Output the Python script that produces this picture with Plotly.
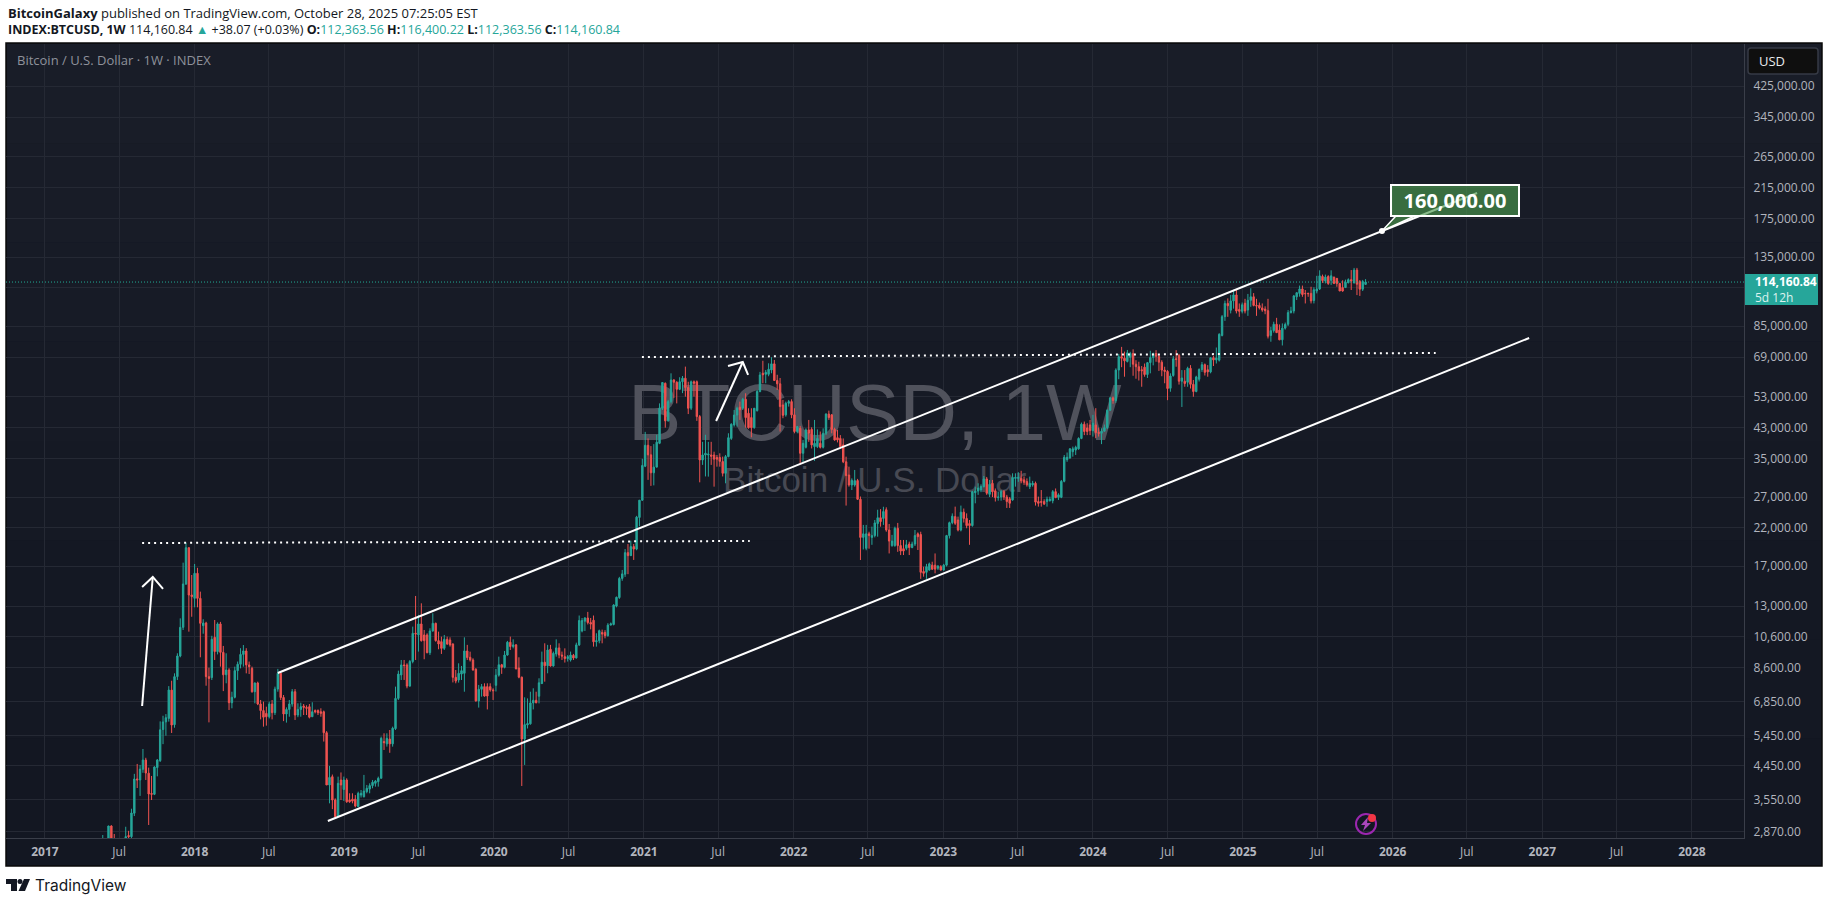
import math
import pandas as pd
import plotly.graph_objects as go

# weekly OHLC, one block per calendar year (weeks start on Monday)
week_open = [
    # 2017
    1350, 1760, 1800, 2040, 2200, 2540, 2975, 2660, 2600, 2500, 2520, 1930, 2790, 2770, 3240, 4080, 4050, 4350,
    4630, 4240, 3700, 3680, 4400, 4610, 5680, 5980, 6120, 7400, 5870, 8100, 9300, 11270, 15075, 19230, 14000,
    # 2018
    13690, 16192, 13690, 11400, 11600, 8098, 8050, 10540, 9580, 11530, 9530, 8200, 8468, 6800, 7050, 8430, 8800,
    9400, 9620, 8760, 8560, 7320, 7760, 6740, 6450, 6330, 6190, 6740, 6360, 7450, 8281, 7040, 6305, 6500, 6740,
    7320, 6260, 6500, 6650, 6590, 6620, 6190, 6450, 6450, 6400, 6400, 5560, 3917, 4140, 3542, 3180, 4050, 3800,
    # 2019
    4050, 3542, 3560, 3560, 3387, 3660, 3622, 3745, 3810, 3900, 3961, 4005, 4096, 5240, 5160, 5330, 5160, 5715,
    7000, 8190, 8760, 8760, 7600, 8960, 10829, 10710, 11530, 10710, 10710, 9510, 11000, 11580, 10310, 10240, 9790,
    10400, 10355, 10080, 8060, 7919, 8240, 8281, 9620, 9220, 9056, 8510, 6880, 7440, 7573, 7573, 7573, 7406,
    # 2020
    7640, 8180, 8770, 8620, 9360, 10200, 9910, 10020, 8580, 8070, 5330, 5860, 5900, 6790, 6910, 7100, 7730, 8920,
    8710, 9730, 8700, 9430, 9820, 9360, 9260, 9140, 9060, 9340, 9180, 10020, 11000, 11750, 12000, 11640, 11820,
    10230, 10300, 10890, 10890, 10660, 11440, 11490, 13000, 13760, 15650, 16100, 18600, 18230, 19370, 19050, 23550, 26440,
    # 2021
    33200, 38210, 35830, 31770, 33000, 38720, 48970, 57900, 45000, 51200, 59210, 58300, 55600, 58500, 59900, 56300,
    48970, 58500, 58500, 46310, 34630, 35800, 35800, 35800, 35800, 35200, 35200, 34260, 31660, 35410, 40000, 43800,
    46800, 49300, 48970, 52000, 47350, 46000, 43000, 48200, 54800, 61920, 61500, 61500, 63320, 65960, 59000, 57700,
    50070, 46850, 50640, 51200,
    # 2022
    46850, 41900, 42800, 36210, 37700, 42350, 42500, 37870, 37870, 38720, 37700, 41410, 47100, 46850, 42500, 40200,
    40000, 38300, 34200, 31300, 29280, 29280, 30150, 26600, 20600, 19150, 21100, 20600, 20850, 22600, 23500, 23400,
    24800, 21650, 19500, 19500, 21900, 19500, 19100, 19150, 19700, 19250, 19700, 21100, 21000, 16400, 16300, 16550,
    17100, 17100, 16750, 16930,
    # 2023
    16550, 17100, 20850, 22740, 23680, 23150, 21650, 24400, 23400, 22600, 22300, 27800, 28100, 28300, 28950, 30500,
    27500, 29600, 28150, 26900, 27000, 28000, 27000, 26700, 26480, 30600, 30600, 30600, 30300, 29950, 28950, 29300,
    29600, 26200, 26200, 26200, 26200, 26350, 26350, 28000, 26950, 26950, 30000, 34700, 35100, 36600, 37000, 37300,
    40000, 44000, 42900, 43800,
    # 2024
    42150, 43800, 41600, 41400, 42000, 43000, 48300, 52500, 51600, 63260, 69200, 68500, 67000, 68900, 70700, 65800,
    64700, 63400, 64500, 61400, 66500, 68800, 70700, 69300, 66700, 63260, 62700, 56000, 61000, 68200, 69800, 58700,
    58700, 58300, 64000, 57500, 54800, 59500, 63500, 65600, 63400, 62500, 68700, 67700, 67600, 79800, 90500, 98900,
    94500, 100600, 104700, 95000, 93800,
    # 2025
    99000, 94600, 101000, 103400, 97600, 97600, 96000, 95200, 94200, 79800, 82400, 86000, 82700, 77500, 83800, 86000,
    93000, 94000, 103400, 105800, 109000, 105800, 105800, 105800, 100900, 107500, 109000, 118500, 115000, 118500,
    115500, 118000, 117000, 113100, 110000, 110000, 113700, 116000, 113500, 123700, 114600, 108800, 112363.56,
]
week_high = [
    # 2017
    1830, 1900, 2100, 2800, 2600, 2980, 2990, 2820, 2600, 2660, 2600, 2960, 2880, 3340, 4220, 4510, 4480, 4986,
    4700, 4400, 4160, 4440, 4660, 6000, 6230, 6300, 7600, 7880, 8280, 9470, 11970, 17390, 19860, 19100, 16010,
    # 2018
    17240, 16800, 14320, 11900, 11700, 8600, 10650, 11840, 11650, 11690, 9950, 9470, 8570, 7320, 8660, 8960, 9800,
    10010, 9800, 8960, 8660, 7790, 7830, 6925, 6850, 6620, 6850, 6925, 7573, 8530, 8370, 7160, 6590, 6925, 7450,
    7450, 6772, 6800, 6740, 6680, 6740, 6820, 6500, 6500, 6550, 6450, 5620, 4450, 4200, 3580, 4142, 4260, 4142,
    # 2019
    4096, 3704, 3704, 3660, 3745, 3787, 4190, 3917, 3961, 4050, 4050, 4142, 5416, 5538, 5538, 5663, 5791, 7573,
    8430, 9056, 9056, 8856, 9056, 11324, 13910, 12250, 13241, 11074, 10829, 11200, 12383, 11630, 10950, 10589, 10710,
    10589, 10540, 10127, 8468, 8856, 8700, 10540, 10020, 9575, 9160, 8570, 7660, 7710, 7744, 7744, 7744, 7490,
    # 2020
    8530, 9261, 8820, 9620, 10290, 10590, 10400, 10080, 9220, 8100, 7050, 7000, 7320, 7490, 7320, 8010, 9580, 10127,
    10020, 10020, 9580, 10400, 10127, 9580, 9790, 9360, 9580, 9430, 10170, 12200, 12000, 12070, 12500, 12000, 12200,
    10830, 11100, 11100, 11060, 11590, 11640, 13160, 13850, 15810, 16560, 19050, 19700, 20150, 19700, 23800, 26440, 34900,
    # 2021
    41800, 40000, 38000, 38500, 41000, 50600, 58300, 58200, 51800, 61900, 59500, 58700, 60300, 60800, 64750, 58500,
    59000, 59000, 59000, 46800, 39100, 41000, 39100, 39100, 36600, 35800, 36200, 35410, 35800, 41410, 44280, 48400,
    49500, 51200, 52500, 54150, 48970, 48970, 48970, 55370, 62500, 67350, 63300, 66200, 68960, 67700, 61300, 60000,
    51780, 51200, 51780, 52000,
    # 2022
    48970, 43500, 43500, 39600, 42800, 45280, 43100, 45280, 42500, 41900, 42800, 47350, 48200, 47100, 43000, 42350,
    40900, 40000, 35400, 33100, 30600, 32380, 30500, 27100, 22400, 22400, 21400, 22140, 23150, 24800, 24900, 25300,
    25200, 22540, 20950, 22140, 22700, 20250, 20250, 20250, 20020, 20020, 21650, 21300, 21400, 16930, 17250, 17400,
    17500, 18500, 17100, 17100,
    # 2023
    17250, 20950, 22900, 24200, 25320, 23680, 25500, 25000, 24200, 23150, 28150, 28950, 29610, 29400, 31100, 30900,
    30280, 30280, 28600, 28000, 28300, 28300, 27400, 27000, 31660, 31660, 31900, 32200, 31000, 30600, 30960, 30100,
    29950, 27080, 28300, 26600, 27080, 27080, 28300, 28600, 27690, 30280, 35800, 36400, 37500, 37870, 38100, 40300,
    44500, 44800, 44280, 45280,
    # 2024
    46850, 49000, 43000, 42800, 43900, 48600, 52800, 53000, 64000, 70500, 73900, 71600, 72400, 71500, 72700, 67600,
    66900, 65000, 66100, 66800, 72000, 71100, 72300, 70000, 67600, 64700, 63260, 61900, 69500, 72300, 70500, 63260,
    63260, 64700, 65400, 59200, 60900, 64000, 66800, 66100, 65400, 69000, 69700, 73600, 81000, 91500, 100800, 102300,
    104700, 108400, 108400, 98900, 99500,
    # 2025
    102000, 105400, 109500, 106000, 102000, 99500, 98900, 97000, 102000, 84500, 87500, 89800, 85900, 86500, 87000, 94600,
    96700, 104700, 106300, 111500, 111500, 108200, 106300, 110600, 110200, 119000, 123500, 120000, 120000, 119500,
    123500, 118300, 114000, 113500, 115500, 116000, 117000, 123700, 125500, 125500, 115700, 115800, 116400.22,
]
week_low = [
    # 2017
    1350, 1660, 1710, 2040, 2130, 2500, 2100, 2440, 2270, 2480, 1830, 1850, 2400, 2650, 3180, 3838, 3640, 4250,
    4050, 2995, 3541, 3660, 4150, 4570, 5150, 5450, 5990, 5550, 5750, 7919, 9220, 11070, 14970, 10950, 12100,
    # 2018
    12890, 12890, 9220, 10800, 7620, 5960, 7920, 9056, 9400, 8660, 7350, 7744, 6476, 6550, 7000, 7919, 8560,
    8660, 8280, 8240, 7270, 6772, 6690, 6080, 5791, 5830, 6120, 6080, 6260, 7320, 6925, 6010, 5950, 6190, 6620,
    6056, 6170, 6190, 6260, 6260, 6120, 6190, 6330, 6260, 6190, 5240, 3917, 3463, 3330, 3130, 3180, 3542, 3520,
    # 2019
    3475, 3475, 3463, 3370, 3387, 3600, 3600, 3704, 3704, 3830, 3873, 3873, 4096, 4953, 5065, 4860, 5065, 5663,
    6925, 7919, 7919, 7490, 7573, 8856, 9056, 9580, 10240, 9100, 9470, 9365, 10950, 10240, 9730, 9430, 9684,
    10020, 9903, 7790, 7744, 7780, 7919, 7320, 9056, 8960, 8430, 6850, 6580, 7082, 7082, 6500, 7320, 6925,
    # 2020
    7330, 8098, 8250, 8560, 9320, 9684, 9790, 8510, 8010, 3890, 4480, 5720, 5870, 6500, 6770, 6770, 7710, 7830,
    8281, 8660, 8660, 9261, 9160, 9056, 8900, 8960, 8960, 9056, 9140, 9950, 10900, 11000, 11490, 11120, 9903,
    9903, 10127, 10127, 10470, 10590, 11420, 11420, 12890, 13640, 15400, 15810, 16100, 18200, 17710, 18900, 22200, 26300,
    # 2021
    33000, 30300, 29100, 29200, 33000, 38500, 48400, 43000, 44800, 50600, 52500, 50600, 55300, 54200, 52950, 47100,
    48400, 52950, 45000, 29800, 33500, 31000, 30960, 33500, 28950, 33100, 33100, 31000, 29610, 35250, 39600, 43300,
    43300, 45300, 48400, 43000, 42700, 40300, 42700, 47900, 54500, 57900, 57900, 60700, 61920, 58800, 55370, 41900,
    45800, 46300, 49520, 45800,
    # 2022
    41400, 41400, 33700, 33860, 37400, 39100, 37400, 34400, 37500, 37400, 37400, 40900, 45280, 41400, 39400, 38950,
    37400, 33900, 25500, 28950, 28300, 28950, 26480, 17700, 19000, 18900, 19100, 19600, 20600, 20700, 22140, 22400,
    21400, 18500, 19350, 19350, 18700, 18300, 18300, 18900, 18300, 19150, 19450, 18930, 15600, 15830, 15600, 16480,
    16550, 16190, 16550, 16480,
    # 2023
    16480, 16950, 20450, 22500, 22400, 21450, 21450, 22760, 21900, 19600, 22140, 25890, 27400, 27900, 28800, 27400,
    27000, 27000, 26200, 26350, 26350, 26480, 25100, 25100, 26350, 28950, 29900, 29610, 29300, 28950, 28500, 28950,
    25500, 25320, 25320, 25600, 25320, 26200, 25890, 26800, 26480, 26800, 29800, 34200, 34900, 35400, 35800, 37100,
    39800, 40900, 40900, 40900,
    # 2024
    40500, 40100, 40500, 38500, 41900, 42600, 48200, 50500, 50800, 59500, 64500, 60500, 66600, 64500, 60900, 59700,
    59000, 56570, 60500, 60000, 61900, 65300, 66900, 62900, 60700, 57900, 51700, 54700, 60500, 64700, 57400, 49400,
    56570, 56570, 55900, 52900, 54500, 58600, 62500, 61000, 60500, 61900, 65000, 66100, 67000, 79300, 88000, 90400,
    92500, 95500, 92500, 90400, 92500,
    # 2025
    92500, 91000, 96700, 97000, 91000, 95000, 93500, 92000, 78200, 76500, 81300, 81300, 77300, 74600, 83000, 85000,
    92500, 92500, 101200, 103500, 103400, 98900, 103400, 98900, 98900, 105800, 108200, 113500, 113100, 112000,
    112000, 113000, 110600, 107500, 107000, 110000, 113100, 108200, 113100, 104600, 104000, 107500, 112363.56,
]
week_close = [
    # 2017
    1760, 1800, 2040, 2200, 2540, 2975, 2660, 2600, 2500, 2520, 1930, 2770, 2770, 3246, 4077, 4050, 4356, 4630,
    4244, 3687, 3680, 4417, 4630, 5670, 5977, 6150, 7403, 5853, 8098, 9300, 11270, 15075, 19230, 14000, 13850,
    # 2018
    16192, 13690, 11580, 11600, 8098, 8000, 10400, 9580, 11530, 9530, 8200, 8468, 6800, 7050, 8430, 8800, 9400,
    9620, 8760, 8660, 7320, 7760, 6740, 6450, 6170, 6190, 6740, 6360, 7450, 8281, 7040, 6305, 6500, 6740, 7320,
    6260, 6500, 6620, 6590, 6550, 6170, 6400, 6400, 6360, 6333, 5560, 3917, 4120, 3542, 3167, 3961, 3917, 4050,
    # 2019
    3500, 3500, 3515, 3400, 3704, 3704, 3760, 3830, 3900, 3990, 4020, 4096, 5355, 5200, 5355, 5160, 5730, 7000,
    8240, 8760, 8720, 7600, 8960, 10829, 10780, 11530, 10310, 10310, 9510, 11000, 11580, 10310, 10080, 9790, 10400,
    10080, 10020, 8060, 7860, 8281, 8430, 9620, 9200, 9056, 8468, 6880, 7440, 7573, 7110, 7110, 7406, 7370,
    # 2020
    8180, 8770, 8620, 9360, 10200, 9910, 10020, 8530, 8070, 5330, 5870, 5910, 6790, 6910, 6800, 7770, 8920, 8710,
    9680, 8700, 9470, 9820, 9360, 9300, 9140, 9260, 9360, 9180, 10020, 11800, 11800, 12000, 11640, 11520, 10230,
    10300, 11020, 10770, 10660, 11440, 11540, 13090, 13790, 15650, 16130, 18600, 18230, 19370, 19050, 23600, 26440, 33370,
    # 2021
    38210, 35830, 31770, 33000, 39000, 48970, 58200, 45000, 51200, 59210, 58300, 55600, 58500, 59900, 56300, 48970,
    58500, 57900, 46310, 34630, 35800, 36200, 36000, 35500, 34800, 34800, 34300, 31660, 35410, 40200, 44000, 46800,
    48970, 48500, 52000, 46000, 43000, 43000, 48970, 54800, 61230, 61300, 62300, 63600, 65960, 59000, 57700, 49520,
    46700, 50640, 51200, 46850,
    # 2022
    41900, 43300, 36210, 38720, 42350, 41410, 38300, 38720, 40000, 37700, 41410, 47100, 46000, 42500, 39600, 39600,
    37870, 34200, 31170, 29280, 30200, 30150, 26600, 20600, 21100, 21100, 20850, 20850, 22700, 23500, 22900, 24500,
    21650, 20100, 20100, 21900, 19500, 18800, 18800, 19600, 19250, 19700, 20850, 20700, 16300, 16190, 16930, 17250,
    16650, 16650, 17000, 16550,
    # 2023
    17100, 20850, 22740, 23750, 22640, 21650, 24400, 23400, 22300, 22300, 28000, 28100, 28700, 29000, 30500, 27700,
    29400, 28000, 26900, 27000, 28000, 27000, 26200, 25900, 30800, 30800, 30800, 30100, 29800, 29300, 29600, 29600,
    26100, 25890, 26070, 25780, 26600, 26600, 28000, 26900, 27400, 30000, 35250, 35250, 37300, 37300, 37700, 40000,
    44000, 41900, 41900, 42150,
    # 2024
    44280, 41600, 41400, 42000, 43000, 48300, 52500, 51600, 63260, 69200, 68500, 67300, 71000, 70700, 65800, 64700,
    62900, 63000, 61400, 66500, 68800, 70700, 69400, 66700, 63260, 62700, 55900, 60800, 68200, 68000, 58700, 60000,
    57800, 64000, 57500, 54800, 60400, 63500, 65600, 62300, 62500, 68700, 67700, 68600, 80400, 90500, 98900, 97400,
    100600, 104700, 94000, 93800, 98000,
    # 2025
    94000, 101000, 103400, 97600, 97200, 96000, 94600, 94200, 79400, 82400, 86000, 81300, 77500, 83800, 85900, 93000,
    94000, 104000, 106300, 109000, 105000, 105600, 105600, 100600, 108400, 109000, 119000, 115300, 118000, 113000,
    119000, 113000, 113100, 107500, 107500, 114000, 116000, 115000, 123700, 112500, 108800, 114600, 114160.84,
]
first_week = "2017-05-01"

price_ticks = [425000, 345000, 265000, 215000, 175000, 135000, 110000, 85000, 69000, 53000, 43000, 35000, 27000,
               22000, 17000, 13000, 10600, 8600, 6850, 5450, 4450, 3550, 2870]
time_ticks = ["2017-01-01", "2017-07-01", "2018-01-01", "2018-07-01", "2019-01-01", "2019-07-01", "2020-01-01",
              "2020-07-01", "2021-01-01", "2021-07-01", "2022-01-01", "2022-07-01", "2023-01-01", "2023-07-01",
              "2024-01-01", "2024-07-01", "2025-01-01", "2025-07-01", "2026-01-01", "2026-07-01", "2027-01-01",
              "2027-07-01", "2028-01-01"]
time_labels = ["<b>2017</b>", "Jul", "<b>2018</b>", "Jul", "<b>2019</b>", "Jul", "<b>2020</b>", "Jul", "<b>2021</b>",
               "Jul", "<b>2022</b>", "Jul", "<b>2023</b>", "Jul", "<b>2024</b>", "Jul", "<b>2025</b>", "Jul",
               "<b>2026</b>", "Jul", "<b>2027</b>", "Jul", "<b>2028</b>"]

last_price = 114160.84
target_price = 160000.00

# drawings on the chart: dates and prices
upper_x = ["2018-07-23", "2026-07-26"]
upper_y = [8299, 207400]
lower_x = ["2018-11-22", "2026-11-30"]
lower_y = [3076, 78440]
top2017_x = ["2017-08-26", "2021-09-16"]
top2017_y = [19840, 20110]
top2021_x = ["2020-12-27", "2026-04-16"]
top2021_y = [69050, 70940]
arrow1_x = ["2017-08-26", "2017-09-21", None, "2017-08-26", "2017-09-21", "2017-10-16"]
arrow1_y = [6650, 15800, None, 14780, 15800, 14580]
arrow2_x = ["2021-06-26", "2021-08-30", None, "2021-07-25", "2021-08-30", "2021-09-12"]
arrow2_y = [44970, 66780, None, 65010, 66780, 61210]
tail_x = ["2026-01-09", "2025-12-06", "2026-02-24", "2026-01-09"]
tail_y = [177700, 160800, 177700, 177700]

UP = "#26A69A"
DOWN = "#EF5350"
GRID = "#252934"
AXIS = "#3A3E49"
TICK = "#B2B5BE"
FONT = "Open Sans"

# chart frame in page pixels
LEFT, RIGHT, TOP, BOTTOM = 6, 1744, 44, 838


def px(x):
    return (x - LEFT) / (RIGHT - LEFT)


def py(y):
    return (BOTTOM - y) / (BOTTOM - TOP)


weeks = pd.date_range(first_week, periods=len(week_close), freq="7D")
y_range = [3.4385, 5.7507]
x_range = ["2016-09-28", "2028-05-07"]

fig = go.Figure()

# watermark sits on the base axes so the candles (overlay axes) draw over it
fig.add_trace(go.Scatter(x=["2022-07-18"], y=[45200], mode="text", text=["BTCUSD, 1W"],
                         textfont=dict(family="Liberation Sans", size=80, color="#50525C"),
                         textposition="middle center", hoverinfo="skip", showlegend=False))
fig.add_trace(go.Scatter(x=["2022-07-18"], y=[29670], mode="text", text=["Bitcoin / U.S. Dollar"],
                         textfont=dict(family="Liberation Sans", size=35, color="#474953"),
                         textposition="middle center", hoverinfo="skip", showlegend=False))

fig.add_trace(go.Candlestick(x=weeks, open=week_open, high=week_high, low=week_low, close=week_close, yaxis="y2",
                             increasing=dict(line=dict(color=UP, width=1), fillcolor=UP),
                             decreasing=dict(line=dict(color=DOWN, width=1), fillcolor=DOWN),
                             whiskerwidth=0, hoverinfo="skip", showlegend=False))


def add_line(xs, ys, width=2, dash="solid", color="#FFFFFF"):
    fig.add_trace(go.Scatter(x=xs, y=ys, mode="lines", yaxis="y2", line=dict(color=color, width=width, dash=dash),
                             hoverinfo="skip", showlegend=False, connectgaps=False))


add_line(x_range, [last_price, last_price], width=1, dash="1px,2px", color="#22AB94")
add_line(upper_x, upper_y)
add_line(lower_x, lower_y)
add_line(top2017_x, top2017_y, dash="2px,4px")
add_line(top2021_x, top2021_y, dash="2px,4px")
add_line(arrow1_x, arrow1_y)
add_line(arrow2_x, arrow2_y)

fig.add_trace(go.Scatter(x=tail_x, y=tail_y, mode="lines", yaxis="y2", fill="toself", fillcolor="#3A6E40",
                         line=dict(color="#FFFFFF", width=1.5), hoverinfo="skip", showlegend=False))
fig.add_trace(go.Scatter(x=[tail_x[1]], y=[tail_y[1]], mode="markers", yaxis="y2",
                         marker=dict(color="#FFFFFF", size=6), hoverinfo="skip", showlegend=False))

shapes = [
    dict(type="rect", xref="paper", yref="paper", x0=px(6), x1=px(1822), y0=py(866), y1=py(43), layer="below",
         fillcolor="#131722", line=dict(color="#0A0A0A", width=1.5)),
]
# background fades a little from the top of the chart to the bottom
bands = ["#191D28", "#181C27", "#171B26", "#161A25", "#151924", "#141823", "#141823", "#131722"]
for i, c in enumerate(bands):
    y0 = 44 + i * (BOTTOM - 44) / len(bands)
    shapes.append(dict(type="rect", xref="paper", yref="paper", x0=px(7), x1=px(1821), y0=py(y0),
                       y1=py(y0 + (BOTTOM - 44) / len(bands)), layer="below", fillcolor=c, line=dict(width=0)))
shapes += [
    # USD button
    dict(type="path", xref="paper", yref="paper", layer="above", fillcolor="#0F0F0F", line=dict(color="#363A45", width=1.5),
         path=f"M {px(1751)} {py(48)} L {px(1815)} {py(48)} Q {px(1818)} {py(48)} {px(1818)} {py(51)} "
              f"L {px(1818)} {py(71)} Q {px(1818)} {py(74)} {px(1815)} {py(74)} L {px(1751)} {py(74)} "
              f"Q {px(1748)} {py(74)} {px(1748)} {py(71)} L {px(1748)} {py(51)} Q {px(1748)} {py(48)} {px(1751)} {py(48)} Z"),
    # last price tag
    dict(type="rect", xref="paper", yref="paper", x0=px(1745), x1=px(1818), y0=py(305), y1=py(274), layer="above",
         fillcolor=UP, line=dict(width=0)),
    # pine editor badge
    dict(type="circle", xref="paper", yref="paper", x0=px(1356), x1=px(1376), y0=py(834), y1=py(814), layer="above",
         line=dict(color="#9C27B0", width=2), fillcolor="rgba(0,0,0,0)"),
    dict(type="path", xref="paper", yref="paper", layer="above", fillcolor="#AB47BC", line=dict(width=0),
         path=f"M {px(1368)} {py(817)} L {px(1361)} {py(825)} L {px(1365)} {py(825)} L {px(1363)} {py(831)} "
              f"L {px(1371)} {py(823)} L {px(1367)} {py(823)} Z"),
    dict(type="circle", xref="paper", yref="paper", x0=px(1368), x1=px(1376), y0=py(822), y1=py(814), layer="above",
         fillcolor="#F23645", line=dict(width=0)),
    # logo
    dict(type="path", xref="paper", yref="paper", layer="above", fillcolor="#131722", line=dict(width=0),
         path=f"M {px(6)} {py(879)} L {px(17)} {py(879)} L {px(17)} {py(891)} L {px(11)} {py(891)} L {px(11)} {py(884)} L {px(6)} {py(884)} Z"),
    dict(type="circle", xref="paper", yref="paper", x0=px(17.5), x1=px(22.5), y0=py(884), y1=py(879), layer="above",
         fillcolor="#131722", line=dict(width=0)),
    dict(type="path", xref="paper", yref="paper", layer="above", fillcolor="#131722", line=dict(width=0),
         path=f"M {px(24)} {py(879)} L {px(30)} {py(879)} L {px(25)} {py(891)} L {px(18.5)} {py(891)} Z"),
]


def note(x, y, text, size=13, color="#131722", anchor="left", family=FONT):
    return dict(xref="paper", yref="paper", x=px(x), y=py(y), text=text, showarrow=False, xanchor=anchor,
                yanchor="middle", align="left", font=dict(family=family, size=size, color=color))


def teal(s):
    return f'<span style="color:#26A69A">{s}</span>'


annotations = [
    note(6, 13, "<b>BitcoinGalaxy</b> published on TradingView.com, October 28, 2025 07:25:05 EST"),
    note(6, 30, "<b>INDEX:BTCUSD, 1W</b> 114,160.84 " + teal("▲") + " +38.07 (+0.03%) <b>O:</b>" + teal("112,363.56")
         + " <b>H:</b>" + teal("116,400.22") + " <b>L:</b>" + teal("112,363.56") + " <b>C:</b>" + teal("114,160.84"),
         size=12.5),
    note(15, 60, "Bitcoin / U.S. Dollar · 1W · INDEX", size=13, color="#8F929B"),
    note(1757, 61, "USD", size=13, color="#E8E9EC"),
    note(1753, 289, '<b>114,160.84</b><br><span style="color:#DDF2EF">5d 12h</span>', size=12, color="#FFFFFF"),
    note(33, 885, "TradingView", size=15.5, color="#131722", family="Inter"),
    # target label sits on the price axes so the channel line runs under it
    dict(xref="x", yref="y2", x="2026-06-02", y=math.log10(196600), text=f"<b>{target_price:,.2f}</b>", showarrow=False,
         font=dict(family=FONT, size=20, color="#FFFFFF"), bgcolor="rgba(76,154,78,0.65)", bordercolor="#FFFFFF",
         borderwidth=2, borderpad=2, width=122, height=25),
]

fig.update_layout(
    width=1829,
    height=903,
    autosize=False,
    margin=dict(l=LEFT, r=1829 - RIGHT, t=TOP, b=903 - BOTTOM, pad=0),
    paper_bgcolor="#FFFFFF",
    plot_bgcolor="rgba(0,0,0,0)",
    showlegend=False,
    font=dict(family=FONT, size=12, color=TICK),
    shapes=shapes,
    annotations=annotations,
    xaxis=dict(type="date", range=x_range, rangeslider=dict(visible=False), tickmode="array", tickvals=time_ticks,
               ticktext=time_labels, showgrid=True, gridcolor=GRID, gridwidth=1, zeroline=False, showline=True,
               linecolor=AXIS, linewidth=1, ticks="", ticklabelstandoff=3, tickfont=dict(size=12, color=TICK, family=FONT)),
    yaxis=dict(type="log", range=y_range, side="right", tickmode="array", tickvals=price_ticks,
               ticktext=["" if p == 110000 else f"{p:,.2f}" for p in price_ticks], showgrid=True, gridcolor=GRID,
               gridwidth=1, zeroline=False, showline=True, linecolor=AXIS, linewidth=1, ticks="", ticklabelstandoff=6,
               tickfont=dict(size=12, color=TICK, family=FONT)),
    yaxis2=dict(type="log", range=y_range, overlaying="y", side="right", showgrid=False, zeroline=False,
                showticklabels=False, ticks="", showline=False),
)

assert len(week_open) == len(week_high) == len(week_low) == len(week_close) == 444, (
    len(week_open), len(week_high), len(week_low), len(week_close))

# the page has a default body margin that would push the picture off the frame
fig.write_html("out.html", config={"displayModeBar": False}, post_script="document.body.style.margin='0';")
